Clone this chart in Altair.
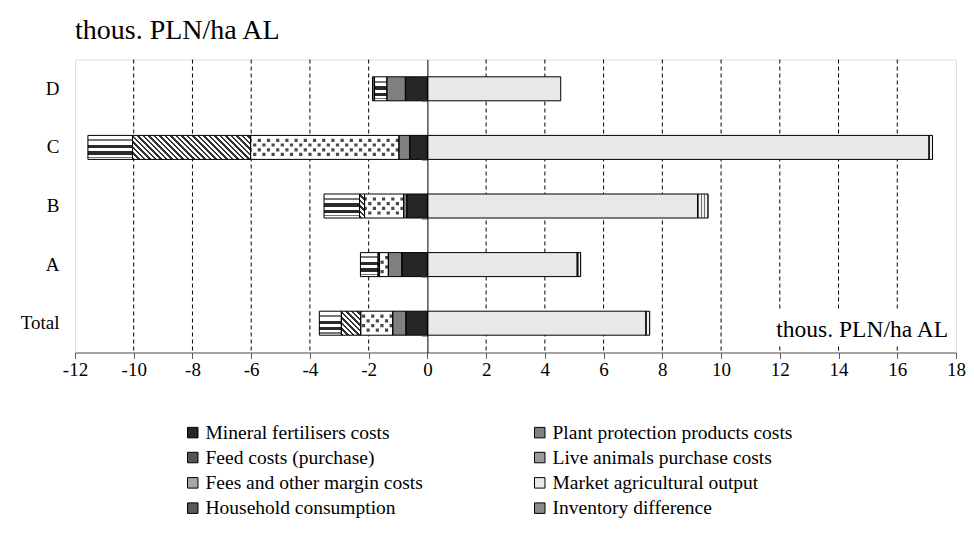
import altair as alt
import pandas as pd

categories = ["D", "C", "B", "A", "Total"]
series_names = [
    "Mineral fertilisers costs",
    "Plant protection products costs",
    "Feed costs (purchase)",
    "Live animals purchase costs",
    "Fees and other margin costs",
    "Market agricultural output",
    "Household consumption",
    "Inventory difference",
]
mineral = [-0.75, -0.60, -0.70, -0.87, -0.73]
plant = [-0.63, -0.37, -0.11, -0.46, -0.45]
feed = [0.0, -5.05, -1.33, -0.30, -1.09]
live = [0.0, -4.02, -0.17, -0.05, -0.66]
fees = [-0.42, -1.52, -1.21, -0.60, -0.75]
market = [4.54, 17.08, 9.20, 5.10, 7.44]
household = [-0.07, 0.0, 0.0, 0.0, 0.0]
inventory = [0.0, 0.12, 0.36, 0.12, 0.13]
x_ticks = list(range(-12, 19, 2))

legend_colors = ["#262626", "#808080", "#555555", "#9a9a9a",
                 "#a6a6a6", "#e8e8e8", "#5a5a5a", "#8a8a8a"]

values = [mineral, plant, feed, live, fees, market, household, inventory]
rows = []
for ci, cat in enumerate(categories):
    neg = 0.0
    pos = 0.0
    for si, name in enumerate(series_names):
        v = values[si][ci]
        if v < 0:
            rows.append(dict(category=cat, series=name, x0=neg, x1=neg + v, w=-v))
            neg += v
        elif v > 0:
            rows.append(dict(category=cat, series=name, x0=pos, x1=pos + v, w=v))
            pos += v
df = pd.DataFrame(rows)

W, H = 881, 293
PXU = W / 30.0
BAR_H = 24
FONT = "Liberation Serif"

x_scale = alt.Scale(domain=[-12, 18], nice=False, zero=False)
y_scale = alt.Scale(domain=categories, paddingInner=0.59, paddingOuter=0.295)
x_axis = alt.Axis(values=x_ticks, grid=False, title=None, labelFont=FONT,
                  labelFontSize=19, labelColor="black", domainColor="#595959",
                  tickColor="#595959", tickSize=6, labelPadding=2, labelFlush=False,
                  labelExpr="'' + datum.value")


def X():
    return alt.X("x0:Q", scale=x_scale, axis=x_axis)


def Y(axis=None):
    return alt.Y("category:N", sort=categories, scale=y_scale, axis=axis)


one = pd.DataFrame({"k": [0]})

# grid lines
grid_vals = pd.DataFrame({"g": [t for t in x_ticks if t not in (-12, 0, 18)]})
grid = alt.Chart(grid_vals).mark_rule(color="black", strokeDash=[4, 3], strokeWidth=1).encode(
    x=alt.X("g:Q", scale=x_scale, axis=x_axis)
)

# text box background + label
box = alt.Chart(one).mark_rect(color="white").encode(
    x=alt.value(684), x2=alt.value(879), y=alt.value(251), y2=alt.value(286)
)
box_text = alt.Chart(one).mark_text(
    text="thous. PLN/ha AL", align="right", baseline="alphabetic",
    font=FONT, fontSize=23.5, color="black"
).encode(x=alt.value(873), y=alt.value(277))

base = alt.Chart(df).mark_bar(height=BAR_H).encode(
    x=X(), x2="x1:Q",
    y=Y(alt.Axis(title=None, ticks=False, domain=False, labelFont=FONT,
                 labelFontSize=19, labelColor="black", labelPadding=16)),
    color=alt.Color("series:N", scale=alt.Scale(domain=series_names, range=legend_colors),
                    legend=alt.Legend(title=None, orient="none", legendX=108, legendY=363,
                                      direction="horizontal",
                                      columns=2, columnPadding=107, rowPadding=4.3,
                                      symbolType="square", symbolSize=110,
                                      symbolStrokeColor="black", symbolStrokeWidth=1,
                                      labelFont=FONT, labelFontSize=19.5, labelColor="black",
                                      labelOffset=3, labelLimit=400)),
)

layers = [grid, box, box_text, base]

# fees: horizontal stripes
light, dark, mid = "white", "#2a2a2a", "#777777"
fee_stops = []
bands = [(0.16, 0.24, mid), (0.39, 0.53, dark), (0.66, 0.80, dark), (0.88, 0.93, mid)]
fee_stops.append(alt.GradientStop(offset=0, color=light))
for a, b, c in bands:
    fee_stops += [alt.GradientStop(offset=a, color=light), alt.GradientStop(offset=a, color=c),
                  alt.GradientStop(offset=b, color=c), alt.GradientStop(offset=b, color=light)]
fee_stops.append(alt.GradientStop(offset=1, color=light))
fees_layer = alt.Chart(df).transform_filter(
    alt.datum.series == series_names[4]
).mark_bar(height=BAR_H, fill=alt.LinearGradient(
    gradient="linear", x1=0, y1=0, x2=0, y2=1, stops=fee_stops)).encode(x=X(), x2="x1:Q", y=Y())
layers.append(fees_layer)

# live animals: diagonal stripes (\) per bar
for r in df[df.series == series_names[3]].itertuples():
    wpx = max(r.w * PXU, 1.0)
    rr = BAR_H / wpx
    dx = (1 + rr) / (1 + rr * rr)
    n = (wpx + BAR_H) / 5.5
    stops = []
    k = 0
    while k / n < 1:
        a = k / n
        b = min((k + 0.5) / n, 1.0)
        c = min((k + 1) / n, 1.0)
        stops += [alt.GradientStop(offset=a, color="#333333"), alt.GradientStop(offset=b, color="#333333"),
                  alt.GradientStop(offset=b, color=light), alt.GradientStop(offset=c, color=light)]
        k += 1
    lay = alt.Chart(df).transform_filter(
        (alt.datum.series == series_names[3]) & (alt.datum.category == r.category)
    ).mark_bar(height=BAR_H, fill=alt.LinearGradient(
        gradient="linear", x1=0, y1=1, x2=dx, y2=1 - rr * dx, stops=stops)).encode(
        x=X(), x2="x1:Q", y=Y())
    layers.append(lay)

# inventory: vertical stripes
for r in df[df.series == series_names[7]].itertuples():
    wpx = max(r.w * PXU, 1.0)
    n = max(wpx / 3.0, 1.0)
    stops = []
    k = 0
    while k / n < 1:
        a = k / n
        b = min((k + 0.5) / n, 1.0)
        c = min((k + 1) / n, 1.0)
        stops += [alt.GradientStop(offset=a, color="#707070"), alt.GradientStop(offset=b, color="#707070"),
                  alt.GradientStop(offset=b, color="#f0f0f0"), alt.GradientStop(offset=c, color="#f0f0f0")]
        k += 1
    lay = alt.Chart(df).transform_filter(
        (alt.datum.series == series_names[7]) & (alt.datum.category == r.category)
    ).mark_bar(height=BAR_H, fill=alt.LinearGradient(
        gradient="linear", x1=0, y1=0, x2=1, y2=0, stops=stops)).encode(
        x=X(), x2="x1:Q", y=Y())
    layers.append(lay)

# feed: dotted pattern
feed_bg = alt.Chart(df).transform_filter(alt.datum.series == series_names[2]).mark_bar(
    height=BAR_H, color="white").encode(x=X(), x2="x1:Q", y=Y())
layers.append(feed_bg)
for i, off in enumerate([-7.0, -2.4, 2.4, 7.0]):
    dots = alt.Chart(df).transform_filter(alt.datum.series == series_names[2]).mark_rule(
        color="#4a4a4a", strokeWidth=3.2, strokeDash=[3.2, 6.0], strokeDashOffset=(i % 2) * 4.6,
        yOffset=off).encode(x=X(), x2="x1:Q", y=Y())
    layers.append(dots)

outline = alt.Chart(df).mark_bar(height=BAR_H, fillOpacity=0, stroke="black", strokeWidth=1).encode(
    x=X(), x2="x1:Q",
    y=Y(alt.Axis(orient="left", offset=-12 * PXU, labels=False, domain=True, domainColor="black",
                 domainWidth=1, ticks=True, tickBand="extent", tickSize=6, tickColor="#404040",
                 title=None, grid=False, zindex=1)),
)
layers.append(outline)

chart = alt.layer(*layers).resolve_axis(y="independent").properties(
    width=W, height=H,
    autosize=alt.AutoSizeParams(type="none"),
    padding={"left": 67, "top": 51.5, "right": 9.5, "bottom": 170},
    title=alt.TitleParams("thous. PLN/ha AL", anchor="start", frame="group", font=FONT,
                          fontSize=28, fontWeight="normal", color="black", offset=14),
).configure_view(stroke="#a6a6a6", strokeWidth=1).configure(background="white")

chart.save("out.html", embed_options={"renderer": "svg", "actions": False})
